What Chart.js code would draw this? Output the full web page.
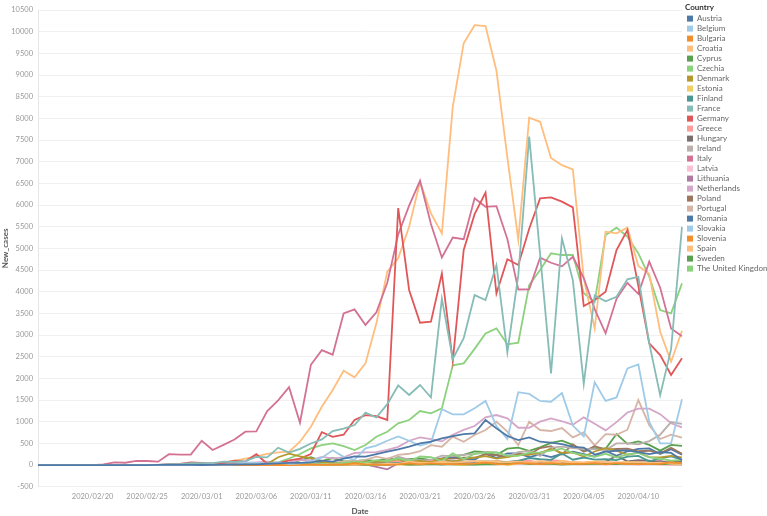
<!DOCTYPE html>
<html>
<head>
<meta charset="utf-8">
<script src="https://cdn.jsdelivr.net/npm/chart.js@4.4.1/dist/chart.umd.min.js"></script>
<style>
html,body{margin:0;padding:0;background:#fff;}
#wrap{position:relative;width:767px;height:516px;}
</style>
</head>
<body>
<div id="wrap"><canvas id="c" width="767" height="516"></canvas></div>
<script>
const dates = [
'2020/02/15','2020/02/16','2020/02/17','2020/02/18','2020/02/19','2020/02/20','2020/02/21','2020/02/22','2020/02/23','2020/02/24',
'2020/02/25','2020/02/26','2020/02/27','2020/02/28','2020/02/29','2020/03/01','2020/03/02','2020/03/03','2020/03/04','2020/03/05',
'2020/03/06','2020/03/07','2020/03/08','2020/03/09','2020/03/10','2020/03/11','2020/03/12','2020/03/13','2020/03/14','2020/03/15',
'2020/03/16','2020/03/17','2020/03/18','2020/03/19','2020/03/20','2020/03/21','2020/03/22','2020/03/23','2020/03/24','2020/03/25',
'2020/03/26','2020/03/27','2020/03/28','2020/03/29','2020/03/30','2020/03/31','2020/04/01','2020/04/02','2020/04/03','2020/04/04',
'2020/04/05','2020/04/06','2020/04/07','2020/04/08','2020/04/09','2020/04/10','2020/04/11','2020/04/12','2020/04/13','2020/04/14'];

const xTickLabels = ['2020/02/20','2020/02/25','2020/03/01','2020/03/06','2020/03/11','2020/03/16','2020/03/21','2020/03/26','2020/03/31','2020/04/05','2020/04/10'];

const countries = ['Austria','Belgium','Bulgaria','Croatia','Cyprus','Czechia','Denmark','Estonia','Finland','France','Germany','Greece','Hungary','Ireland','Italy','Latvia','Lithuania','Netherlands','Poland','Portugal','Romania','Slovakia','Slovenia','Spain','Sweden','The United Kingdom'];

const colors = ['#4e79a7','#a0cbe8','#f28e2b','#ffbe7d','#59a14f','#8cd17d','#b6992d','#f1ce63','#499894','#86bcb6','#e15759','#ff9d9a','#79706e','#bab0ac','#d37295','#fabfd2','#b07aa1','#d4a6c8','#9d7660','#d7b5a6','#4e79a7','#a0cbe8','#f28e2b','#ffbe7d','#59a14f','#8cd17d'];

const austria = [0,0,0,0,0,0,0,0,0,0, 0,2,3,4,5,1,3,10,12,14, 15,30,40,50,50,60,100,80,150,200, 192,250,308,362,423,500,538,615,669,715, 731,1038,846,669,577,638,538,515,485,420, 400,240,310,330,340,300,250,300,280,110];
const belgium = [0,0,0,0,0,0,0,0,0,0, 0,0,0,0,0,1,6,5,10,60, 50,30,60,30,40,90,170,340,190,120, 385,450,560,660,560,450,520,1290,1170,1170, 1310,1480,900,600,1680,1640,1480,1460,1660,910, 660,1910,1480,1560,2230,2320,1000,500,500,1520];
const bulgaria = [0,0,0,0,0,0,0,0,0,0, 0,0,0,0,0,0,0,0,0,0, 0,0,4,0,2,17,3,8,10,41, 16,11,5,16,36,16,38,22,22,22, 34,56,24,15,46,35,23,42,21,28, 29,46,16,46,24,22,23,28,61,38];
const croatia = [0,0,0,0,0,0,0,0,0,0, 1,2,0,0,1,3,0,2,3,0, 1,2,0,1,5,5,6,14,11,7, 14,16,24,24,80,50,52,76,55,71, 91,91,71,66,77,54,96,59,71,72, 59,84,80,51,59,67,45,55,27,20];
const cyprus = [0,0,0,0,0,0,0,0,0,0, 0,0,0,0,0,0,0,0,0,0, 0,0,0,0,2,4,0,8,7,13, 0,12,9,25,8,10,23,11,21,16, 8,17,17,35,58,22,32,30,12,20, 19,28,29,22,36,33,20,27,21,18];
const czechia = [0,0,0,0,0,0,0,0,0,0, 0,0,0,0,0,3,2,0,3,4, 7,7,6,8,23,31,22,33,47,84, 56,114,92,156,88,197,180,91,268,131, 260,289,290,215,211,288,290,334,380,280, 232,190,259,175,247,281,177,145,102,116];
const denmark = [0,0,0,0,0,0,0,0,0,0, 0,0,1,1,1,3,1,5,10,6, 10,22,180,264,200,160,65,52,37,52, 70,74,91,130,74,98,68,140,78,138, 171,207,147,184,228,240,283,371,279,292, 197,312,390,331,233,285,184,177,210,178];
const estonia = [0,0,0,0,0,0,0,0,0,0, 0,0,0,0,0,0,0,0,0,0, 0,0,0,0,2,5,17,0,31,27, 36,0,38,17,0,37,28,37,17,0, 27,66,90,0,36,40,30,29,94,59, 34,31,38,51,68,42,37,22,53,26];
const finland = [0,0,0,0,0,0,0,0,0,0, 0,0,1,0,0,1,2,0,1,5, 5,7,2,10,10,19,50,46,17,22, 75,40,42,40,81,64,62,74,92,82, 78,85,78,73,98,162,133,120,267,122, 173,124,133,112,194,209,84,153,200,123];
const france = [0,0,0,0,0,0,0,0,0,0, 2,1,20,19,43,43,46,79,73,92, 190,177,400,286,372,497,591,785,838,924, 1210,1097,1404,1837,1617,1847,1559,3838,2446,2929, 3922,3809,4611,2599,4376,7578,4861,2116,5233,4267, 1873,3912,3777,3881,4286,4342,2808,1613,2673,5497];
const germany = [0,0,0,0,0,0,0,0,0,0, 0,5,20,25,60,50,30,50,100,80, 250,30,40,110,150,255,760,650,700,1040, 1150,1130,1040,5930,4040,3285,3308,4423,2400,4962, 5790,6285,3962,4747,4615,5453,6154,6177,6077,5946, 3669,3808,4000,4962,5423,4133,2808,2538,2077,2462];
const greece = [0,0,0,0,0,0,0,0,0,0, 0,3,0,3,0,0,0,2,22,14, 4,27,7,16,5,9,73,0,38,103, 24,56,64,77,40,31,94,71,48,78, 71,54,95,60,100,102,48,110,95,62, 52,62,60,56,53,15,50,27,12,20];
const hungary = [0,0,0,0,0,0,0,0,0,0, 0,0,0,0,0,0,0,0,0,2, 0,2,5,2,4,3,6,5,9,11, 8,11,15,30,18,21,28,20,39,35, 35,38,35,39,51,45,47,60,60,55, 52,73,78,210,85,111,99,67,69,78];
const ireland = [0,0,0,0,0,0,0,0,0,0, 0,0,0,0,1,0,0,0,1,5, 0,3,10,3,10,27,20,35,38,90, 54,69,74,191,126,102,121,219,204,235, 255,302,294,200,295,325,212,402,424,390, 370,365,345,500,500,480,553,700,992,950];
const italy = [0,0,0,0,0,0,17,62,53,97, 93,78,250,238,240,561,347,466,587,769, 778,1247,1492,1797,977,2313,2651,2547,3497,3590, 3233,3526,4207,5322,5986,6557,5560,4789,5249,5210, 6153,5959,5974,5217,4050,4053,4782,4668,4585,4805, 4316,3599,3039,3836,4204,3951,4694,4092,3153,2972];
const latvia = [0,0,0,0,0,0,0,0,0,0, 0,0,0,0,0,0,0,0,0,0, 0,0,1,0,2,8,7,4,3,6, 18,26,11,25,22,20,17,41,17,24, 24,23,24,20,29,69,16,14,31,13, 11,20,16,15,35,10,28,11,9,17];
const lithuania = [0,0,0,0,0,0,0,0,0,0, 0,0,0,0,0,0,0,0,0,0, 0,0,0,0,2,0,1,6,2,11, 15,-40,-100,40,25,30,40,35,65,60, 76,31,66,20,75,68,29,34,37,34, 29,52,34,43,57,69,44,99,28,23];
const netherlands = [0,0,0,0,0,0,0,0,0,0, 0,0,1,1,5,6,5,14,44,46, 60,77,56,61,121,111,190,155,176,278, 292,300,350,420,560,637,600,545,700,810, 900,1100,1154,1077,860,860,1000,1075,1010,930, 1100,952,800,990,1213,1300,1300,1174,964,868];
const poland = [0,0,0,0,0,0,0,0,0,0, 0,0,0,0,0,0,0,0,1,4, 1,5,6,5,9,18,17,36,16,58, 54,45,36,70,111,98,115,152,150,170, 168,249,224,193,256,243,392,437,244,475, 311,435,357,370,380,318,330,268,401,260];
const portugal = [0,0,0,0,0,0,0,0,0,0, 0,0,0,0,0,0,2,2,4,7, 5,9,9,11,18,19,34,57,76,86, 117,194,143,235,260,320,460,423,654,538, 692,808,1000,769,461,1000,808,785,852,638, 754,452,712,699,815,1500,920,600,700,630];
const romania = [0,0,0,0,0,0,0,0,0,0, 0,1,0,2,0,0,0,3,0,1, 2,2,6,2,6,13,9,50,30,47, 29,77,32,31,83,63,66,143,186,144, 123,263,160,266,270,185,245,184,256,309, 252,193,331,213,318,375,383,256,364,240];
const slovakia = [0,0,0,0,0,0,0,0,0,0, 0,0,0,0,0,0,0,0,0,0, 0,0,1,2,4,3,11,12,11,19, 9,31,6,45,17,41,19,13,31,12, 10,43,22,22,22,37,37,27,24,21, 35,49,51,21,14,14,16,23,42,12];
const slovenia = [0,0,0,0,0,0,0,0,0,0, 0,0,0,0,0,0,0,0,0,1, 2,5,10,12,25,27,43,42,42,23, 34,20,33,33,30,47,31,31,37,56, 41,46,48,52,29,46,46,54,29,57, 44,36,32,57,42,25,38,18,20,17];
const spain = [0,0,0,0,0,0,0,0,0,0, 0,2,4,7,13,20,40,60,100,150, 200,260,290,310,538,885,1346,1731,2177,2023, 2346,3270,4462,4770,5500,6538,5808,5346,8270,9730, 10150,10130,9100,7100,5200,8015,7920,7085,6920,6820, 4300,3150,5385,5346,5477,4592,4408,3077,2385,3100];
const sweden = [0,0,0,0,0,0,0,0,0,0, 0,1,5,0,6,2,1,16,43,35, 24,34,41,46,107,181,92,161,86,89, 111,98,149,134,137,151,115,143,205,236, 313,295,233,378,401,328,407,512,563,466, 312,387,376,715,490,544,466,332,465,440];
const unitedKingdom = [0,0,0,0,0,0,0,0,0,0, 0,0,0,0,2,12,4,11,34,30, 48,43,60,150,254,385,461,500,438,346, 461,654,769,962,1038,1246,1192,1308,2300,2346, 2680,3038,3154,2785,2823,4154,4500,4885,4846,4846, 3962,3769,5308,5477,5269,4885,4346,3577,3500,4192];

const seriesValues = [austria,belgium,bulgaria,croatia,cyprus,czechia,denmark,estonia,finland,france,germany,greece,hungary,ireland,italy,latvia,lithuania,netherlands,poland,portugal,romania,slovakia,slovenia,spain,sweden,unitedKingdom];

const FONT = 'Lato, "Open Sans", sans-serif';

const datasets = countries.map((name, k) => ({
  label: name,
  data: seriesValues[k],
  borderColor: colors[k],
  backgroundColor: colors[k],
  borderWidth: 1.8,
  pointRadius: 0,
  pointHoverRadius: 0,
  tension: 0,
  fill: false
}));

new Chart(document.getElementById('c'), {
  type: 'line',
  data: { labels: dates, datasets: datasets },
  options: {
    responsive: false,
    animation: false,
    layout: { padding: 0 },
    plugins: {
      tooltip: { enabled: false },
      legend: {
        position: 'right',
        align: 'start',
        maxWidth: 82,
        title: {
          display: true, text: 'Country', position: 'start', color: '#333',
          font: { family: FONT, size: 8, weight: 'bold' },
          padding: { top: 3, bottom: 0 }
        },
        labels: {
          boxWidth: 6, boxHeight: 6, padding: 2, color: '#666',
          font: { family: FONT, size: 8 },
          generateLabels(chart) {
            const items = Chart.defaults.plugins.legend.labels.generateLabels(chart);
            items.forEach(it => { it.lineWidth = 0; });
            return items;
          }
        }
      }
    },
    scales: {
      x: {
        type: 'category',
        position: 'bottom',
        grid: { display: false, drawTicks: false },
        border: { display: false },
        ticks: {
          autoSkip: false, maxRotation: 0, minRotation: 0, padding: 5,
          color: '#999', font: { family: FONT, size: 7.5 },
          callback(v) { const l = this.getLabelForValue(v); return xTickLabels.includes(l) ? l : ''; }
        },
        title: { display: true, text: 'Date', color: '#555', font: { family: FONT, size: 8, weight: 'bold' }, padding: { top: 0, bottom: 0 } },
        afterFit(s) { s.height = 29.3; }
      },
      y: {
        type: 'linear',
        position: 'left',
        min: -500, max: 10500,
        grid: { color: '#f0f0f0', drawTicks: false },
        border: { display: true, color: '#e6e6e6' },
        ticks: { stepSize: 500, padding: 5, color: '#999', font: { family: FONT, size: 7.5 },
          callback(v) { return String(v); } },
        title: { display: true, text: 'New_cases', color: '#555', font: { family: FONT, size: 8, weight: 'bold' }, padding: 1 },
        afterFit(s) { s.width = 38; }
      },
      topGap: {
        type: 'category', position: 'top', display: true,
        grid: { display: false, drawTicks: false }, border: { display: false },
        ticks: { display: false },
        afterFit(s) { s.height = 10; }
      },
      rightGap: {
        type: 'linear', position: 'right', display: true,
        grid: { display: false, drawTicks: false }, border: { display: false },
        ticks: { display: false },
        afterFit(s) { s.width = 3; }
      }
    }
  }
});
</script>
</body>
</html>
